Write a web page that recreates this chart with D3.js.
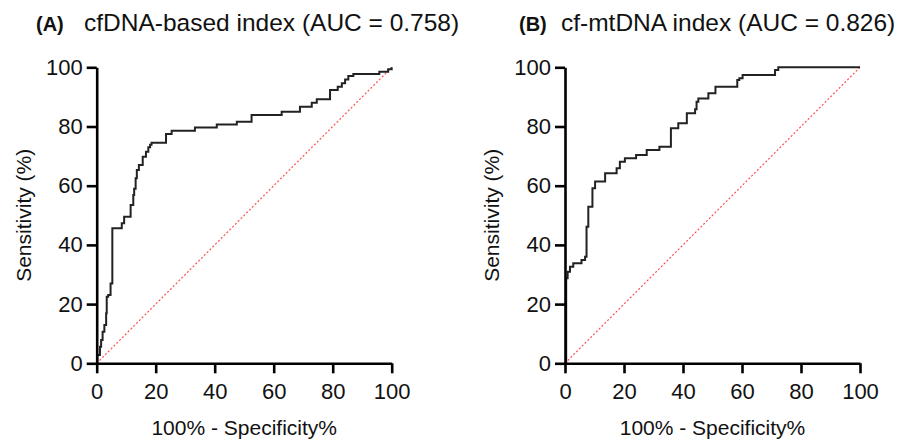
<!DOCTYPE html>
<html>
<head>
<meta charset="utf-8">
<script src="https://cdn.jsdelivr.net/npm/d3@7"></script>
<style>
  body { margin: 0; background: #fff; }
  text { font-family: "Liberation Sans", Arial, sans-serif; fill: #111; }
</style>
</head>
<body>
<div id="chart"></div>
<script>
// ROC curves, two panels

const W = 914
const H = 441

// tick values shared by both axes
const ticks = [0, 20, 40, 60, 80, 100]

// panel A - cfDNA-based index: [1 - specificity, sensitivity]
const rocA = [
  [0, 0], [0.2, 2.8], [1.1, 5.6], [1.5, 7.9], [2.0, 10.7], [2.6, 12.9], [3.2, 16.9],
  [3.4, 22.5], [3.9, 23.1], [4.7, 27], [5.3, 45.6], [8.5, 47.3], [9.3, 49.5],
  [11.5, 53.5], [12.4, 56.9], [12.7, 59], [13.2, 62.5], [13.6, 65.3], [14.3, 67],
  [15.6, 69.8], [16.7, 71.5], [17.5, 73], [18.1, 73.8], [18.6, 74.5], [23.5, 77.5],
  [25.4, 78.6], [33.3, 79.7], [40.7, 80.7], [47.5, 81.6], [52.5, 83.9], [62.7, 85],
  [68.9, 86.7], [72.9, 88], [74.6, 89.2], [79.1, 92.3], [81.7, 93.4], [83.1, 94.6],
  [84.2, 95.9], [85.3, 97.1], [87, 97.7], [95.8, 98.5], [98.8, 99.3], [100, 100]
]

// panel B - cf-mtDNA index
const rocB = [
  [0, 0], [0.4, 20.8], [0.4, 28.7], [0.9, 30.9], [1.7, 32.6], [2.8, 33.8], [5.6, 34.9],
  [6.8, 36], [7.3, 46.1], [7.9, 52.9], [9.3, 59.1], [10.2, 61.4], [13.6, 64.2],
  [17.5, 65.9], [18.6, 68.1], [20.3, 69.3], [24.1, 70.4], [27.7, 72.1], [32.0, 73.2],
  [35.9, 79.4], [38.4, 81.1], [41.3, 84.5], [44.1, 85.8], [44.6, 88.4], [45.2, 89.5],
  [48.6, 91.2], [51.0, 93.4], [58.4, 95.7], [59.1, 96.3], [60.2, 97.4], [71.2, 99.1],
  [72.3, 100], [100, 100]
]

const panels = [
  { tag: "(A)", title: "cfDNA-based index (AUC = 0.758)", data: rocA, left: 96.7, tagX: 36, titleX: 84 },
  { tag: "(B)", title: "cf-mtDNA index (AUC = 0.826)", data: rocB, left: 565, tagX: 519, titleX: 561 }
]

const PLOT_W = 295
const TOP = 67.3
const BOTTOM = 363.3

const svg = d3.select("#chart").append("svg")
  .attr("width", W)
  .attr("height", H)

panels.forEach(p => {
  const x = d3.scaleLinear().domain([0, 100]).range([p.left, p.left + PLOT_W])
  const y = d3.scaleLinear().domain([0, 100]).range([BOTTOM, TOP])

  const g = svg.append("g")

  // reference diagonal
  g.append("line")
    .attr("x1", x(0)).attr("y1", y(0))
    .attr("x2", x(100)).attr("y2", y(100))
    .attr("stroke", "#ff4f4f")
    .attr("stroke-width", 1.2)
    .attr("stroke-dasharray", "2,2")

  // roc step curve
  const line = d3.line()
    .x(d => x(d[0]))
    .y(d => y(d[1]))
    .curve(d3.curveStepAfter)

  g.append("path")
    .datum(p.data)
    .attr("d", line)
    .attr("fill", "none")
    .attr("stroke", "#222")
    .attr("stroke-width", 2)

  // axes
  const xAxis = g.append("g")
    .attr("transform", `translate(0, ${BOTTOM})`)
    .call(d3.axisBottom(x).tickValues(ticks).tickSize(10).tickSizeOuter(0).tickPadding(10))
  const yAxis = g.append("g")
    .attr("transform", `translate(${p.left}, 0)`)
    .call(d3.axisLeft(y).tickValues(ticks).tickSize(10).tickSizeOuter(0).tickPadding(4))

  ;[xAxis, yAxis].forEach(a => {
    a.select(".domain").attr("stroke", "#000").attr("stroke-width", 2.6)
    a.selectAll(".tick line").attr("stroke", "#000").attr("stroke-width", 2.6)
    a.selectAll(".tick text")
      .attr("font-size", "22px")
      .attr("font-family", "Liberation Sans, Arial, sans-serif")
      .attr("fill", "#111")
  })

  // axis titles
  g.append("text")
    .attr("x", x(50))
    .attr("y", 435)
    .attr("text-anchor", "middle")
    .attr("font-size", "21px")
    .text("100% - Specificity%")

  g.append("text")
    .attr("transform", `translate(${p.left - 66}, ${y(50)}) rotate(-90)`)
    .attr("text-anchor", "middle")
    .attr("font-size", "21px")
    .text("Sensitivity (%)")

  // panel title
  g.append("text")
    .attr("x", p.tagX)
    .attr("y", 31)
    .attr("font-size", "20px")
    .attr("font-weight", "bold")
    .text(p.tag)

  g.append("text")
    .attr("x", p.titleX)
    .attr("y", 31)
    .attr("font-size", "24.5px")
    .text(p.title)
})
</script>
</body>
</html>
